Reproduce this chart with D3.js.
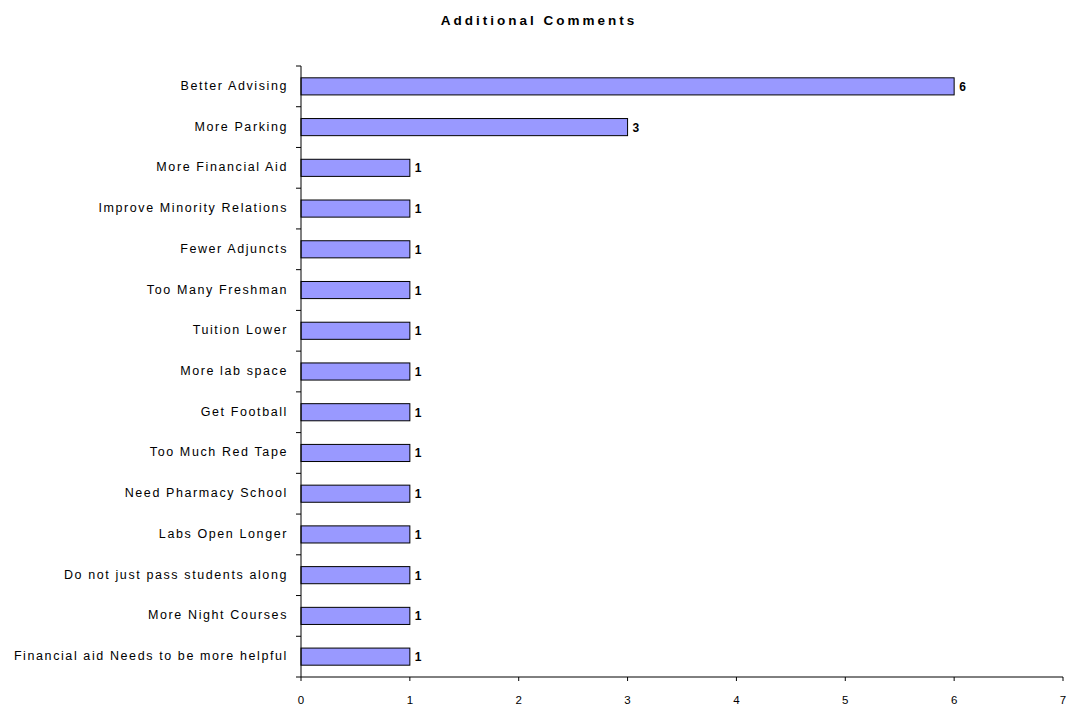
<!DOCTYPE html>
<html><head><meta charset="utf-8">
<script src="https://cdn.jsdelivr.net/npm/d3@7"></script>
<style>
body{margin:0;background:#fff;}
text{font-family:"Liberation Sans",Arial,sans-serif;fill:#000;}
</style></head><body>
<svg id="chart" width="1069" height="706"></svg>
<script>
const categories = ["Better Advising","More Parking","More Financial Aid","Improve Minority Relations","Fewer Adjuncts","Too Many Freshman","Tuition Lower","More lab space","Get Football","Too Much Red Tape","Need Pharmacy School","Labs Open Longer","Do not just pass students along","More Night Courses","Financial aid Needs to be more helpful"];
const values = [6,3,1,1,1,1,1,1,1,1,1,1,1,1,1];
const xTicks = [0,1,2,3,4,5,6,7];
const title = "Additional Comments";

const svg = d3.select("#chart");
const m = {left:301, right:1063, top:66, bottom:677};
const x = d3.scaleLinear().domain([0,7]).range([m.left,m.right]);
const y = d3.scaleBand().domain(categories).range([m.top,m.bottom]).paddingInner(0.58).paddingOuter(0.29);

svg.append("text").attr("x",539).attr("y",25).attr("text-anchor","middle")
  .style("font-size","13.5px").style("font-weight","bold").style("letter-spacing","3px").text(title);

// bars
svg.selectAll("rect.bar").data(values).join("rect").attr("class","bar")
  .attr("x",x(0)).attr("y",(d,i)=>y(categories[i]))
  .attr("width",d=>x(d)-x(0)).attr("height",y.bandwidth())
  .attr("fill","#9999ff").attr("stroke","#000").attr("stroke-width",1);

// value labels
svg.selectAll("text.val").data(values).join("text").attr("class","val")
  .attr("x",d=>x(d)+5).attr("y",(d,i)=>y(categories[i])+y.bandwidth()/2+4.5)
  .style("font-size","12px").style("font-weight","bold").text(d=>d);

// y axis
const yg = svg.append("g");
yg.append("line").attr("x1",m.left).attr("x2",m.left).attr("y1",m.top).attr("y2",m.bottom).attr("stroke","#000");
const bounds = d3.range(categories.length+1).map(i=>m.top+i*(m.bottom-m.top)/categories.length);
yg.selectAll("line.t").data(bounds).join("line").attr("class","t")
  .attr("x1",m.left-5).attr("x2",m.left).attr("y1",d=>d).attr("y2",d=>d).attr("stroke","#000");
yg.selectAll("text").data(categories).join("text")
  .attr("x",m.left-13).attr("y",d=>y(d)+y.bandwidth()/2+3.5).attr("text-anchor","end")
  .style("font-size","12.5px").style("letter-spacing","1.6px").text(d=>d);

// x axis
const xg = svg.append("g");
xg.append("line").attr("x1",m.left).attr("x2",m.right).attr("y1",m.bottom).attr("y2",m.bottom).attr("stroke","#000");
xg.selectAll("line.t").data(xTicks).join("line").attr("class","t")
  .attr("x1",d=>x(d)).attr("x2",d=>x(d)).attr("y1",m.bottom).attr("y2",m.bottom+4).attr("stroke","#000");
xg.selectAll("text").data(xTicks).join("text")
  .attr("x",d=>x(d)).attr("y",m.bottom+27).attr("text-anchor","middle")
  .style("font-size","11.5px").text(d=>d);
</script></body></html>
